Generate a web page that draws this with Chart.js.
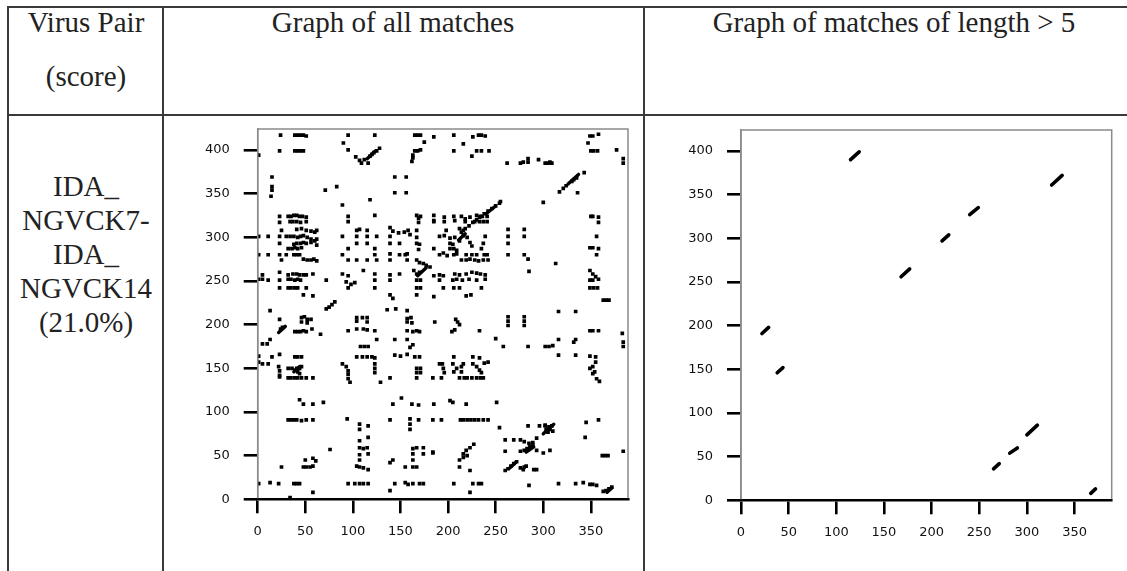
<!DOCTYPE html>
<html>
<head>
<meta charset="utf-8">
<script src="https://cdn.jsdelivr.net/npm/chart.js@4.4.1/dist/chart.umd.min.js"></script>
<style>
  html, body { margin:0; padding:0; background:#fff; }
  body { width:1127px; height:571px; position:relative; overflow:hidden; }
  .ln { position:absolute; background:#3a3a3a; }
  .tx { position:absolute; font-family:"Liberation Serif","Times New Roman",serif; font-size:29px; line-height:34px; color:#222; text-align:center; white-space:nowrap; }
  canvas { position:absolute; }
</style>
</head>
<body>
<div class="ln" style="left:7px; top:6px; width:1120px; height:2px;"></div>
<div class="ln" style="left:7px; top:114px; width:1120px; height:2px;"></div>
<div class="ln" style="left:7px; top:6px; width:2px; height:565px;"></div>
<div class="ln" style="left:162px; top:6px; width:2px; height:565px;"></div>
<div class="ln" style="left:643px; top:6px; width:2px; height:565px;"></div>

<div class="tx" style="left:6px; width:160px; top:5px;">Virus Pair</div>
<div class="tx" style="left:6px; width:160px; top:59px;">(score)</div>
<div class="tx" style="left:193px; width:400px; top:5px;">Graph of all matches</div>
<div class="tx" style="left:644px; width:500px; top:5px;">Graph of matches of length &gt; 5</div>
<div class="tx" id="pair" style="left:6px; width:160px; top:169px;"></div>

<canvas id="c1" width="470" height="456" style="left:170px; top:115px;"></canvas>
<canvas id="c2" width="477" height="456" style="left:650px; top:115px;"></canvas>

<script>
// ---------------- data ----------------
const pairLabel = ["IDA_", "NGVCK7-", "IDA_", "NGVCK14", "(21.0%)"];
const xTicks = [0, 50, 100, 150, 200, 250, 300, 350];
const yTicks = [0, 50, 100, 150, 200, 250, 300, 350, 400];
const xLength = 389;   // length of first sequence
const yLength = 424;   // length of second sequence

// matches of length > 5: [x1, y1, x2, y2]
const longMatches = [
  [115,390,124,399],[326,361,337,372],[240,327,249,335],[211,297,218,304],
  [168,256,177,265],[22,191,29,198],[38,146,44,152],[300,75,311,86],
  [282,54,290,60],[265,36,271,42],[367,8,372,13]
];

// all matches (single points), upper band
const matchesUpper = [
  [24,417],[39,417],[42,417],[45,417],[48,417],[51,416],[95,417],[123,417],[165,417],[168,417],[171,417],[185,415],[206,417],[226,415],[232,417],[235,417],[239,416],[349,416],[352,416],[358,418],
  [90,408],[175,409],[216,407],[347,408],
  [23,399],[39,399],[42,399],[45,399],[48,399],[95,400],[165,399],[168,399],[171,400],[206,399],[230,399],[235,399],[243,399],[350,399],[353,399],[357,399],[377,400],
  [1,394],[163,394],[225,393],
  [103,392],[107,388],[109,385],[112,389],[116,385],[118,393],[120,395],[122,397],[125,399],[128,402],[162,387],[163,391],
  [262,385],[276,385],[279,386],[284,386],[284,390],[295,389],[302,385],[305,385],[307,386],[309,385],[384,385],[384,390],
  [15,369],[144,369],[156,369],[15,358],[15,354],[14,347],[71,354],[83,358],[144,351],[156,351],[118,343],[89,337],[300,340],[255,341],
  [317,352],[321,356],[324,359],[330,364],[332,366],[335,368],[343,374],[336,351],
  [214,306],[218,310],[222,313],[226,317],[230,320],[234,324],[238,327],[242,330],[246,333],[250,336],[254,339]
];

// all matches, middle band
const matchesMiddle = [
  [23,324],[32,324],[35,324],[38,325],[41,325],[44,324],[47,324],[51,323],[95,324],[123,325],[167,325],[169,322],[171,324],[185,325],[185,319],[196,323],[206,324],[214,324],[218,321],[223,323],[230,325],[233,323],[236,324],[241,324],[350,324],[352,324],[358,323],
  [23,317],[34,318],[37,318],[41,318],[45,317],[51,318],[95,318],[169,317],[185,318],[196,318],[207,319],[218,318],[228,318],[233,318],[237,318],[241,318],[358,317],
  [25,308],[41,309],[46,310],[51,308],[56,307],[60,306],[62,308],[104,308],[107,309],[115,308],[139,311],[142,307],[148,305],[154,306],[158,308],[167,308],[198,308],[212,310],[216,308],[263,309],[280,309],
  [1,301],[11,301],[23,301],[30,301],[34,301],[38,301],[42,300],[45,301],[48,302],[52,300],[56,298],[60,296],[62,298],[89,301],[104,301],[115,301],[125,301],[139,301],[160,303],[167,300],[191,301],[196,302],[202,299],[207,300],[212,296],[216,302],[220,300],[239,301],[263,301],[280,301],[356,301],
  [23,293],[38,292],[41,293],[45,293],[48,294],[51,293],[56,294],[62,291],[104,293],[115,293],[139,293],[149,293],[167,293],[170,292],[202,293],[205,292],[223,294],[225,290],[237,293],[263,293],
  [32,287],[36,287],[39,288],[42,287],[46,288],[95,287],[123,287],[169,286],[185,287],[202,287],[206,287],[209,285],[235,287],[349,288],[352,288],[358,287],
  [1,280],[11,280],[23,280],[30,280],[38,280],[41,280],[44,280],[89,280],[123,280],[139,281],[149,280],[155,280],[157,281],[191,280],[195,282],[199,279],[206,280],[209,281],[219,280],[225,280],[230,280],[238,280],[241,280],[263,280],[280,280],[356,280],
  [25,274],[48,275],[52,274],[56,274],[59,275],[62,273],[95,274],[104,274],[115,274],[125,274],[139,274],[157,274],[167,274],[170,271],[174,270],[177,268],[181,266],[214,274],[219,274],[223,275],[228,274],[232,273],[237,274],[242,274],[284,275],[313,270],
  [5,257],[23,260],[32,257],[37,258],[41,258],[44,257],[48,257],[51,257],[58,258],[89,258],[95,256],[111,262],[123,258],[139,257],[149,258],[164,262],[167,258],[170,260],[185,256],[191,257],[195,256],[207,258],[212,257],[219,258],[225,260],[230,259],[234,258],[239,257],[285,261],[349,262],[352,258],
  [1,252],[5,252],[11,251],[23,251],[32,252],[35,252],[39,251],[42,252],[45,251],[72,251],[93,249],[98,246],[102,248],[123,251],[139,251],[167,251],[171,251],[191,251],[205,251],[209,252],[215,251],[222,252],[230,251],[239,252],[349,251],[352,251],[358,252],[355,255],
  [23,242],[32,242],[35,242],[39,242],[42,242],[51,242],[95,242],[123,242],[167,242],[171,242],[195,242],[206,242],[212,242],[235,242],[349,242],[353,242],[357,242],
  [48,234],[58,233],[139,234],[142,230],[167,234],[185,232],[219,233],[224,234],[363,228],[366,228],[369,228],
  [72,218],[75,220],[78,223],[81,226],[316,215],[334,215],[13,216],[136,217],[145,218],[157,216]
];

// all matches, lower band
const matchesLower = [
  [23,206],[46,208],[49,209],[52,206],[56,206],[46,203],[52,202],[104,208],[110,208],[115,208],[104,204],[115,203],[157,207],[161,208],[157,203],[162,202],[208,206],[210,203],[212,200],[263,209],[280,209],[263,204],[280,204],[263,199],[280,199],
  [24,195],[26,197],[39,192],[42,192],[45,192],[48,193],[51,192],[57,195],[66,189],[95,193],[104,195],[111,195],[115,194],[123,193],[157,193],[163,192],[167,193],[170,192],[186,203],[204,192],[207,194],[233,193],[349,193],[352,193],[358,193],[383,190],
  [10,178],[13,183],[125,183],[144,183],[157,183],[250,184],[316,183],[334,183],[332,180],[384,180],
  [5,178],[108,175],[112,175],[116,175],[160,174],[163,177],[258,175],[284,175],[302,175],[306,175],[310,176],[384,175],
  [1,164],[15,163],[23,166],[39,163],[42,163],[46,163],[104,163],[110,163],[115,163],[120,163],[123,162],[144,165],[150,164],[157,166],[165,163],[170,163],[206,163],[226,163],[233,162],[316,165],[334,165],[349,164],[355,163],
  [1,157],[5,155],[11,155],[22,152],[23,147],[23,142],[32,150],[36,150],[39,148],[41,150],[42,146],[44,150],[46,152],[44,144],[89,155],[93,152],[95,147],[95,143],[123,155],[123,150],[123,145],[167,150],[171,150],[167,145],[171,145],[191,155],[194,155],[195,150],[196,145],[205,155],[209,150],[214,152],[216,155],[206,146],[214,146],[226,155],[230,152],[233,148],[235,145],[238,156],[242,157],[349,150],[352,152],[354,146],[352,144],[355,157],
  [23,140],[32,139],[35,139],[39,139],[42,139],[46,139],[51,139],[58,139],[95,138],[97,134],[129,134],[139,139],[167,139],[184,139],[193,139],[212,139],[217,139],[220,139],[225,139],[230,139],[234,139],[237,139],[356,138],[359,135],
  [44,114],[48,109],[58,109],[69,111],[142,109],[151,116],[162,109],[169,108],[185,109],[202,113],[205,111],[219,109],[251,111],
  [32,91],[35,91],[38,91],[41,91],[46,90],[51,91],[58,91],[94,92],[139,91],[160,92],[169,91],[184,91],[193,91],[213,91],[216,91],[220,91],[224,91],[228,91],[232,91],[237,91],[242,91],[345,88],[358,91],
  [107,86],[107,80],[116,84],[160,86],[160,80],[254,82],[284,84],[296,84],[302,84],[306,83],[309,84],[303,80],[307,80],[310,78],[344,71],[305,77],[302,85],
  [107,67],[116,71],[107,59],[111,58],[115,59],[163,58],[167,59],[174,59],[184,54],[216,52],[219,56],[223,59],[227,63],[260,68],[269,68],[276,68],[280,66],[285,64],[289,65],[293,70],[307,56],[384,55],[76,57],
  [107,51],[116,52],[163,52],[174,52],[184,53],[260,55],[276,55],[280,56],[283,58],[286,60],[289,62],[293,56],[300,53],[362,50],[365,50],[368,50],
  [50,45],[58,47],[61,44],[107,45],[142,45],[163,45],[212,45],[216,48],[220,50],
  [25,37],[48,37],[51,37],[55,37],[58,38],[104,38],[107,37],[111,36],[116,34],[139,42],[155,37],[163,37],[167,37],[212,37],[223,33],[260,33],[263,35],[266,38],[269,41],[272,43],[276,36],[279,34],[280,37],[290,34],[293,34],[282,38],
  [1,18],[13,19],[22,18],[38,18],[41,18],[44,18],[95,18],[102,18],[107,18],[111,18],[116,18],[144,18],[155,19],[158,17],[163,18],[170,18],[174,18],[206,18],[226,18],[232,18],[235,18],[285,16],[316,18],[334,18],[342,19],[349,17],[352,17],[356,16],
  [34,2],[58,8],[139,10],[223,8],[363,9],[366,10],[369,12],[372,14]
];

// ---------------- chart building ----------------
document.getElementById('pair').innerHTML = pairLabel.join('<br>');

const tickFont = { family: '"DejaVu Sans", Verdana, sans-serif', size: 13 };
const TICK_LEN = 14;
const TICK_W = 2.6;

// thin grey frame on left/top/right of the plot area
const framePlugin = {
  id: 'frameBox',
  afterDraw(chart) {
    const a = chart.chartArea, ctx = chart.ctx;
    ctx.save();
    ctx.strokeStyle = '#8a8a8a';
    ctx.lineWidth = 1.5;
    ctx.beginPath();
    ctx.moveTo(a.left, a.bottom - 1); ctx.lineTo(a.left, a.top); ctx.lineTo(a.right, a.top); ctx.lineTo(a.right, a.bottom - 1);
    ctx.stroke();
    ctx.restore();
  }
};

function makeScales(yW, xH) {
  return {
    x: {
      type: 'linear', min: 0, max: xLength,
      afterFit: s => { s.height = xH; s.paddingLeft = 0; s.paddingRight = 0; },
      ticks: { stepSize: 50, includeBounds: false, font: tickFont, color: '#111', padding: 11, maxRotation: 0, autoSkip: false },
      grid: { drawOnChartArea: false, drawTicks: true, tickLength: TICK_LEN, color: '#000', lineWidth: TICK_W },
      border: { display: true, color: '#000', width: TICK_W, z: 1 }
    },
    y: {
      type: 'linear', min: 0, max: yLength,
      afterFit: s => { s.width = yW; s.paddingTop = 0; s.paddingBottom = 0; },
      ticks: { stepSize: 50, includeBounds: false, font: tickFont, color: '#111', padding: 14, autoSkip: false },
      grid: { drawOnChartArea: false, drawTicks: true, tickLength: TICK_LEN, color: '#000', lineWidth: TICK_W },
      border: { display: true, color: '#8a8a8a', width: 1.5 }
    }
  };
}

function segmentSets(width) {
  return longMatches.map(m => ({
    type: 'line',
    data: [{ x: m[0], y: m[1] }, { x: m[2], y: m[3] }],
    borderColor: '#000', borderWidth: width, borderCapStyle: 'round',
    pointRadius: 0, showLine: true, fill: false
  }));
}

function pointSet(pts) {
  return {
    type: 'scatter',
    data: pts.map(p => ({ x: p[0], y: p[1] })),
    pointStyle: 'rect', pointRadius: 2.6, backgroundColor: '#000', borderWidth: 0
  };
}

function baseOptions(pad, yW, xH) {
  return {
    responsive: false, animation: false,
    plugins: { legend: { display: false }, tooltip: { enabled: false } },
    layout: { padding: pad },
    scales: makeScales(yW, xH)
  };
}

new Chart(document.getElementById('c1'), {
  type: 'scatter',
  data: { datasets: [pointSet(matchesUpper), pointSet(matchesMiddle), pointSet(matchesLower), ...segmentSets(3.4)] },
  options: baseOptions({ left: 0, top: 14, right: 12, bottom: 0 }, 87.7, 71.7),
  plugins: [framePlugin]
});

new Chart(document.getElementById('c2'), {
  type: 'scatter',
  data: { datasets: segmentSets(3.6) },
  options: baseOptions({ left: 0, top: 15, right: 15.3, bottom: 0 }, 91, 70.7),
  plugins: [framePlugin]
});
</script>
</body>
</html>
